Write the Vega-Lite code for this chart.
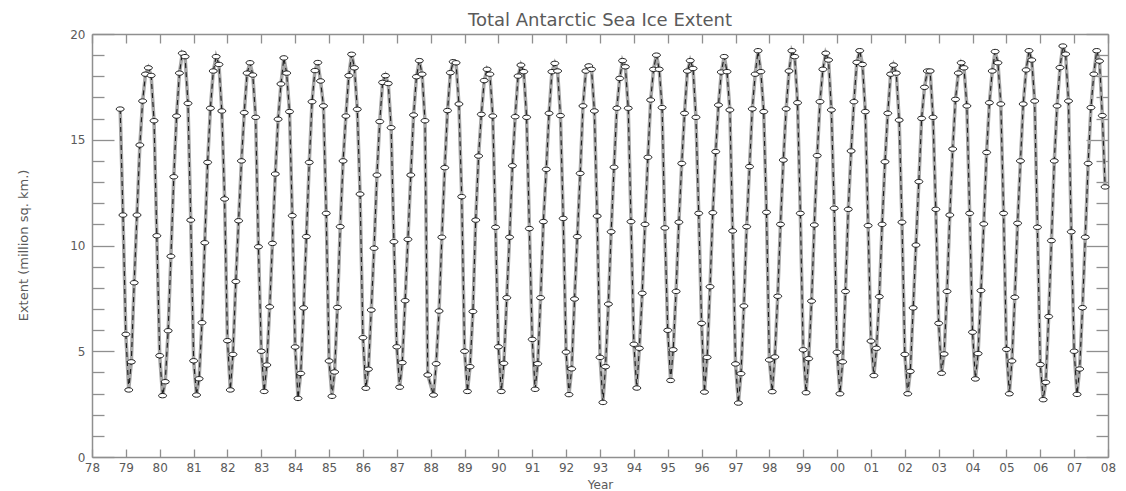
{
  "$schema": "https://vega.github.io/schema/vega-lite/v6.json",
  "width": 1016,
  "height": 423,
  "autosize": {"type": "none"},
  "padding": {"left": 92, "top": 34, "right": 18, "bottom": 34},
  "background": "white",
  "title": {"text": "Total Antarctic Sea Ice Extent", "font": "DejaVu Sans", "fontSize": 18, "fontWeight": "normal", "color": "#5a5a5a", "anchor": "middle", "baseline": "alphabetic", "offset": -16},
  "config": {
    "view": {"stroke": null},
    "axis": {"grid": false, "domainColor": "#8f8f8f", "domainWidth": 1.5, "tickColor": "#8f8f8f", "tickWidth": 1.3, "labelColor": "#5a5a5a", "labelFont": "DejaVu Sans", "labelFontSize": 12, "titleFont": "DejaVu Sans", "titleColor": "#5a5a5a", "titleFontWeight": "normal"}
  },
  "data": {"values": [
    {"d":"1978-11","v":16.45},{"d":"1978-12","v":11.44},
    {"d":"1979-01","v":5.8},{"d":"1979-02","v":3.17},{"d":"1979-03","v":4.5},{"d":"1979-04","v":8.24},{"d":"1979-05","v":11.44},{"d":"1979-06","v":14.75},{"d":"1979-07","v":16.83},{"d":"1979-08","v":18.1},{"d":"1979-09","v":18.4},{"d":"1979-10","v":18.04},{"d":"1979-11","v":15.9},{"d":"1979-12","v":10.46},
    {"d":"1980-01","v":4.79},{"d":"1980-02","v":2.9},{"d":"1980-03","v":3.56},{"d":"1980-04","v":5.97},{"d":"1980-05","v":9.49},{"d":"1980-06","v":13.25},{"d":"1980-07","v":16.12},{"d":"1980-08","v":18.15},{"d":"1980-09","v":19.09},{"d":"1980-10","v":18.93},{"d":"1980-11","v":16.72},{"d":"1980-12","v":11.2},
    {"d":"1981-01","v":4.55},{"d":"1981-02","v":2.93},{"d":"1981-03","v":3.7},{"d":"1981-04","v":6.35},{"d":"1981-05","v":10.13},{"d":"1981-06","v":13.93},{"d":"1981-07","v":16.49},{"d":"1981-08","v":18.25},{"d":"1981-09","v":18.93},{"d":"1981-10","v":18.56},{"d":"1981-11","v":16.36},{"d":"1981-12","v":12.2},
    {"d":"1982-01","v":5.5},{"d":"1982-02","v":3.17},{"d":"1982-03","v":4.85},{"d":"1982-04","v":8.3},{"d":"1982-05","v":11.17},{"d":"1982-06","v":14.0},{"d":"1982-07","v":16.28},{"d":"1982-08","v":18.15},{"d":"1982-09","v":18.64},{"d":"1982-10","v":18.06},{"d":"1982-11","v":16.06},{"d":"1982-12","v":9.94},
    {"d":"1983-01","v":5.0},{"d":"1983-02","v":3.1},{"d":"1983-03","v":4.35},{"d":"1983-04","v":7.1},{"d":"1983-05","v":10.1},{"d":"1983-06","v":13.38},{"d":"1983-07","v":15.97},{"d":"1983-08","v":17.64},{"d":"1983-09","v":18.87},{"d":"1983-10","v":18.15},{"d":"1983-11","v":16.33},{"d":"1983-12","v":11.41},
    {"d":"1984-01","v":5.2},{"d":"1984-02","v":2.77},{"d":"1984-03","v":3.95},{"d":"1984-04","v":7.05},{"d":"1984-05","v":10.42},{"d":"1984-06","v":13.93},{"d":"1984-07","v":16.8},{"d":"1984-08","v":18.27},{"d":"1984-09","v":18.65},{"d":"1984-10","v":17.78},{"d":"1984-11","v":16.6},{"d":"1984-12","v":11.52},
    {"d":"1985-01","v":4.54},{"d":"1985-02","v":2.87},{"d":"1985-03","v":4.02},{"d":"1985-04","v":7.07},{"d":"1985-05","v":10.89},{"d":"1985-06","v":14.0},{"d":"1985-07","v":16.12},{"d":"1985-08","v":18.03},{"d":"1985-09","v":19.04},{"d":"1985-10","v":18.4},{"d":"1985-11","v":16.44},{"d":"1985-12","v":12.43},
    {"d":"1986-01","v":5.64},{"d":"1986-02","v":3.25},{"d":"1986-03","v":4.15},{"d":"1986-04","v":6.95},{"d":"1986-05","v":9.87},{"d":"1986-06","v":13.33},{"d":"1986-07","v":15.86},{"d":"1986-08","v":17.71},{"d":"1986-09","v":18.03},{"d":"1986-10","v":17.66},{"d":"1986-11","v":15.57},{"d":"1986-12","v":10.18},
    {"d":"1987-01","v":5.21},{"d":"1987-02","v":3.3},{"d":"1987-03","v":4.46},{"d":"1987-04","v":7.39},{"d":"1987-05","v":10.29},{"d":"1987-06","v":13.33},{"d":"1987-07","v":16.17},{"d":"1987-08","v":17.98},{"d":"1987-09","v":18.74},{"d":"1987-10","v":18.1},{"d":"1987-11","v":15.9},{"d":"1987-12","v":3.88},
    {"d":"1988-02","v":2.93},{"d":"1988-03","v":4.41},{"d":"1988-04","v":6.9},{"d":"1988-05","v":10.39},{"d":"1988-06","v":13.68},{"d":"1988-07","v":16.38},{"d":"1988-08","v":18.17},{"d":"1988-09","v":18.69},{"d":"1988-10","v":18.64},{"d":"1988-11","v":16.69},{"d":"1988-12","v":12.31},
    {"d":"1989-01","v":5.0},{"d":"1989-02","v":3.1},{"d":"1989-03","v":4.27},{"d":"1989-04","v":6.88},{"d":"1989-05","v":11.2},{"d":"1989-06","v":14.23},{"d":"1989-07","v":16.2},{"d":"1989-08","v":17.8},{"d":"1989-09","v":18.33},{"d":"1989-10","v":18.1},{"d":"1989-11","v":16.12},{"d":"1989-12","v":10.86},
    {"d":"1990-01","v":5.21},{"d":"1990-02","v":3.1},{"d":"1990-03","v":4.43},{"d":"1990-04","v":7.53},{"d":"1990-05","v":10.39},{"d":"1990-06","v":13.77},{"d":"1990-07","v":16.09},{"d":"1990-08","v":18.01},{"d":"1990-09","v":18.53},{"d":"1990-10","v":18.22},{"d":"1990-11","v":16.06},{"d":"1990-12","v":10.8},
    {"d":"1991-01","v":5.56},{"d":"1991-02","v":3.2},{"d":"1991-03","v":4.41},{"d":"1991-04","v":7.53},{"d":"1991-05","v":11.13},{"d":"1991-06","v":13.6},{"d":"1991-07","v":16.25},{"d":"1991-08","v":18.22},{"d":"1991-09","v":18.61},{"d":"1991-10","v":18.25},{"d":"1991-11","v":16.14},{"d":"1991-12","v":11.28},
    {"d":"1992-01","v":4.96},{"d":"1992-02","v":2.95},{"d":"1992-03","v":4.17},{"d":"1992-04","v":7.47},{"d":"1992-05","v":10.42},{"d":"1992-06","v":13.41},{"d":"1992-07","v":16.6},{"d":"1992-08","v":18.25},{"d":"1992-09","v":18.49},{"d":"1992-10","v":18.33},{"d":"1992-11","v":16.36},{"d":"1992-12","v":11.39},
    {"d":"1993-01","v":4.71},{"d":"1993-02","v":2.58},{"d":"1993-03","v":4.27},{"d":"1993-04","v":7.23},{"d":"1993-05","v":10.65},{"d":"1993-06","v":13.7},{"d":"1993-07","v":16.49},{"d":"1993-08","v":17.9},{"d":"1993-09","v":18.74},{"d":"1993-10","v":18.45},{"d":"1993-11","v":16.49},{"d":"1993-12","v":11.13},
    {"d":"1994-01","v":5.33},{"d":"1994-02","v":3.26},{"d":"1994-03","v":5.14},{"d":"1994-04","v":7.74},{"d":"1994-05","v":11.0},{"d":"1994-06","v":14.17},{"d":"1994-07","v":16.88},{"d":"1994-08","v":18.33},{"d":"1994-09","v":19.0},{"d":"1994-10","v":18.33},{"d":"1994-11","v":16.52},{"d":"1994-12","v":10.83},
    {"d":"1995-01","v":5.99},{"d":"1995-02","v":3.62},{"d":"1995-03","v":5.07},{"d":"1995-04","v":7.83},{"d":"1995-05","v":11.1},{"d":"1995-06","v":13.88},{"d":"1995-07","v":16.25},{"d":"1995-08","v":18.25},{"d":"1995-09","v":18.74},{"d":"1995-10","v":18.37},{"d":"1995-11","v":16.06},{"d":"1995-12","v":11.52},
    {"d":"1996-01","v":6.32},{"d":"1996-02","v":3.07},{"d":"1996-03","v":4.71},{"d":"1996-04","v":8.05},{"d":"1996-05","v":11.55},{"d":"1996-06","v":14.44},{"d":"1996-07","v":16.64},{"d":"1996-08","v":18.2},{"d":"1996-09","v":18.93},{"d":"1996-10","v":18.22},{"d":"1996-11","v":16.41},{"d":"1996-12","v":10.69},
    {"d":"1997-01","v":4.4},{"d":"1997-02","v":2.55},{"d":"1997-03","v":3.94},{"d":"1997-04","v":7.14},{"d":"1997-05","v":10.89},{"d":"1997-06","v":13.73},{"d":"1997-07","v":16.46},{"d":"1997-08","v":18.1},{"d":"1997-09","v":19.21},{"d":"1997-10","v":18.22},{"d":"1997-11","v":16.33},{"d":"1997-12","v":11.57},
    {"d":"1998-01","v":4.59},{"d":"1998-02","v":3.09},{"d":"1998-03","v":4.73},{"d":"1998-04","v":7.6},{"d":"1998-05","v":11.0},{"d":"1998-06","v":14.04},{"d":"1998-07","v":16.46},{"d":"1998-08","v":18.25},{"d":"1998-09","v":19.21},{"d":"1998-10","v":18.93},{"d":"1998-11","v":16.75},{"d":"1998-12","v":11.52},
    {"d":"1999-01","v":5.07},{"d":"1999-02","v":3.04},{"d":"1999-03","v":4.65},{"d":"1999-04","v":7.37},{"d":"1999-05","v":10.97},{"d":"1999-06","v":14.25},{"d":"1999-07","v":16.8},{"d":"1999-08","v":18.33},{"d":"1999-09","v":19.09},{"d":"1999-10","v":18.77},{"d":"1999-11","v":16.41},{"d":"1999-12","v":11.76},
    {"d":"2000-01","v":4.95},{"d":"2000-02","v":2.99},{"d":"2000-03","v":4.5},{"d":"2000-04","v":7.83},{"d":"2000-05","v":11.71},{"d":"2000-06","v":14.47},{"d":"2000-07","v":16.8},{"d":"2000-08","v":18.66},{"d":"2000-09","v":19.21},{"d":"2000-10","v":18.56},{"d":"2000-11","v":16.33},{"d":"2000-12","v":10.94},
    {"d":"2001-01","v":5.48},{"d":"2001-02","v":3.85},{"d":"2001-03","v":5.14},{"d":"2001-04","v":7.58},{"d":"2001-05","v":11.0},{"d":"2001-06","v":13.96},{"d":"2001-07","v":16.25},{"d":"2001-08","v":18.1},{"d":"2001-09","v":18.53},{"d":"2001-10","v":18.15},{"d":"2001-11","v":15.93},{"d":"2001-12","v":11.1},
    {"d":"2002-01","v":4.85},{"d":"2002-02","v":2.99},{"d":"2002-03","v":4.05},{"d":"2002-04","v":7.05},{"d":"2002-05","v":10.02},{"d":"2002-06","v":13.02},{"d":"2002-07","v":16.01},{"d":"2002-08","v":17.48},{"d":"2002-09","v":18.25},{"d":"2002-10","v":18.25},{"d":"2002-11","v":16.06},{"d":"2002-12","v":11.71},
    {"d":"2003-01","v":6.32},{"d":"2003-02","v":3.96},{"d":"2003-03","v":4.87},{"d":"2003-04","v":7.83},{"d":"2003-05","v":11.44},{"d":"2003-06","v":14.56},{"d":"2003-07","v":16.91},{"d":"2003-08","v":18.15},{"d":"2003-09","v":18.64},{"d":"2003-10","v":18.4},{"d":"2003-11","v":16.6},{"d":"2003-12","v":11.52},
    {"d":"2004-01","v":5.9},{"d":"2004-02","v":3.69},{"d":"2004-03","v":4.89},{"d":"2004-04","v":7.87},{"d":"2004-05","v":11.02},{"d":"2004-06","v":14.4},{"d":"2004-07","v":16.75},{"d":"2004-08","v":18.25},{"d":"2004-09","v":19.17},{"d":"2004-10","v":18.64},{"d":"2004-11","v":16.69},{"d":"2004-12","v":11.52},
    {"d":"2005-01","v":5.09},{"d":"2005-02","v":2.99},{"d":"2005-03","v":4.54},{"d":"2005-04","v":7.55},{"d":"2005-05","v":11.05},{"d":"2005-06","v":14.0},{"d":"2005-07","v":16.69},{"d":"2005-08","v":18.3},{"d":"2005-09","v":19.21},{"d":"2005-10","v":18.77},{"d":"2005-11","v":16.83},{"d":"2005-12","v":10.86},
    {"d":"2006-01","v":4.37},{"d":"2006-02","v":2.71},{"d":"2006-03","v":3.53},{"d":"2006-04","v":6.64},{"d":"2006-05","v":10.23},{"d":"2006-06","v":14.0},{"d":"2006-07","v":16.6},{"d":"2006-08","v":18.41},{"d":"2006-09","v":19.43},{"d":"2006-10","v":19.05},{"d":"2006-11","v":16.83},{"d":"2006-12","v":10.65},
    {"d":"2007-01","v":5.0},{"d":"2007-02","v":2.96},{"d":"2007-03","v":4.16},{"d":"2007-04","v":7.06},{"d":"2007-05","v":10.39},{"d":"2007-06","v":13.88},{"d":"2007-07","v":16.52},{"d":"2007-08","v":18.1},{"d":"2007-09","v":19.21},{"d":"2007-10","v":18.72},{"d":"2007-11","v":16.14},{"d":"2007-12","v":12.77}
  ]},
  "layer": [
    {
      "mark": {"type": "line", "color": "#a6a6a6", "strokeWidth": 3.5},
      "encoding": {
        "x": {"field": "d", "type": "temporal",
          "scale": {"type": "utc", "domain": [{"year": 1978, "month": 1, "date": 1, "utc": true}, {"year": 2008, "month": 1, "date": 1, "utc": true}]},
          "axis": {"orient": "bottom", "title": "Year", "titleFontSize": 12, "titleBaseline": "alphabetic", "titleY": 31, "titleX": 508,
            "values": [{"year":1978,"utc":true},{"year":1979,"utc":true},{"year":1980,"utc":true},{"year":1981,"utc":true},{"year":1982,"utc":true},{"year":1983,"utc":true},{"year":1984,"utc":true},{"year":1985,"utc":true},{"year":1986,"utc":true},{"year":1987,"utc":true},{"year":1988,"utc":true},{"year":1989,"utc":true},{"year":1990,"utc":true},{"year":1991,"utc":true},{"year":1992,"utc":true},{"year":1993,"utc":true},{"year":1994,"utc":true},{"year":1995,"utc":true},{"year":1996,"utc":true},{"year":1997,"utc":true},{"year":1998,"utc":true},{"year":1999,"utc":true},{"year":2000,"utc":true},{"year":2001,"utc":true},{"year":2002,"utc":true},{"year":2003,"utc":true},{"year":2004,"utc":true},{"year":2005,"utc":true},{"year":2006,"utc":true},{"year":2007,"utc":true},{"year":2008,"utc":true}],
            "labelExpr": "utcFormat(datum.value, '%y')", "labelOverlap": false, "labelFlush": false, "tickSize": -8, "labelPadding": 13}},
        "y": {"field": "v", "type": "quantitative",
          "scale": {"domain": [0, 20], "nice": false},
          "axis": {"orient": "left", "title": "Extent (million sq. km.)", "titleFontSize": 13, "titleAngle": -90, "titleX": -69, "titleY": 211, "titleBaseline": "middle", "titleAlign": "center",
            "values": [0, 5, 10, 15, 20], "labelOverlap": false, "labelFlush": false, "tickSize": -22, "labelPadding": 29}}
      }
    },
    {
      "mark": {"type": "line", "color": "#1e1e1e", "strokeWidth": 1.1, "strokeDash": [5, 4]},
      "encoding": {
        "x": {"field": "d", "type": "temporal",
          "axis": {"orient": "top", "title": null, "labels": false, "tickSize": -9,
            "values": [{"year":1978,"utc":true},{"year":1979,"utc":true},{"year":1980,"utc":true},{"year":1981,"utc":true},{"year":1982,"utc":true},{"year":1983,"utc":true},{"year":1984,"utc":true},{"year":1985,"utc":true},{"year":1986,"utc":true},{"year":1987,"utc":true},{"year":1988,"utc":true},{"year":1989,"utc":true},{"year":1990,"utc":true},{"year":1991,"utc":true},{"year":1992,"utc":true},{"year":1993,"utc":true},{"year":1994,"utc":true},{"year":1995,"utc":true},{"year":1996,"utc":true},{"year":1997,"utc":true},{"year":1998,"utc":true},{"year":1999,"utc":true},{"year":2000,"utc":true},{"year":2001,"utc":true},{"year":2002,"utc":true},{"year":2003,"utc":true},{"year":2004,"utc":true},{"year":2005,"utc":true},{"year":2006,"utc":true},{"year":2007,"utc":true},{"year":2008,"utc":true}]}},
        "y": {"field": "v", "type": "quantitative",
          "axis": {"orient": "right", "title": null, "labels": false, "tickSize": -22, "values": [0, 5, 10, 15, 20]}}
      }
    },
    {
      "mark": {"type": "point", "shape": "M-1,0A1,0.55,0,1,1,1,0A1,0.55,0,1,1,-1,0Z", "size": 64, "filled": false, "fill": "white", "fillOpacity": 1, "stroke": "#1e1e1e", "strokeWidth": 1, "opacity": 1},
      "encoding": {
        "x": {"field": "d", "type": "temporal", "axis": null},
        "y": {"field": "v", "type": "quantitative",
          "axis": {"orient": "left", "title": null, "labels": false, "domain": false, "tickSize": -12, "values": [1,2,3,4,6,7,8,9,11,12,13,14,16,17,18,19]}}
      }
    },
    {
      "mark": {"type": "line", "strokeOpacity": 0},
      "encoding": {
        "x": {"field": "d", "type": "temporal", "axis": null},
        "y": {"field": "v", "type": "quantitative",
          "axis": {"orient": "right", "title": null, "labels": false, "domain": false, "tickSize": -12, "values": [1,2,3,4,6,7,8,9,11,12,13,14,16,17,18,19]}}
      }
    }
  ],
  "resolve": {"axis": {"x": "independent", "y": "independent"}}
}
